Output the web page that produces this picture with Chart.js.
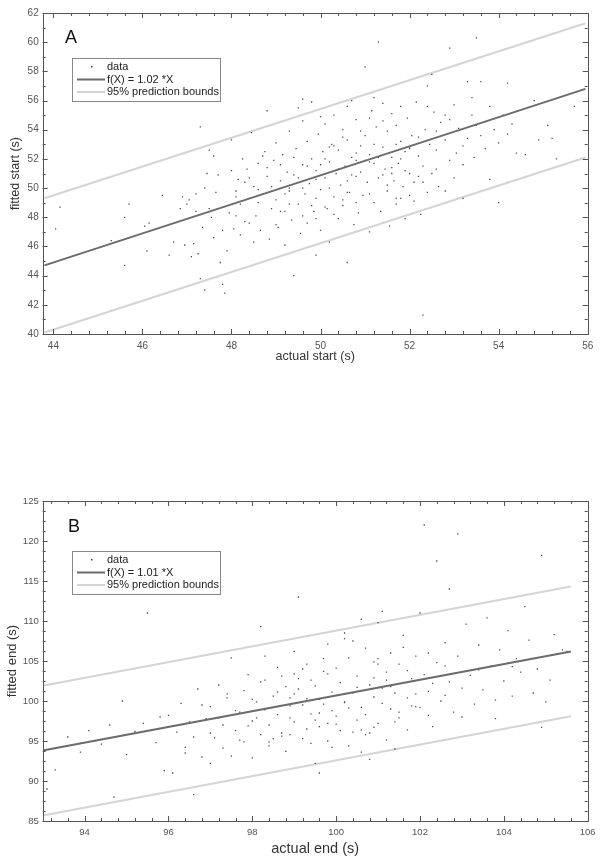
<!DOCTYPE html>
<html><head><meta charset="utf-8">
<script src="https://cdn.jsdelivr.net/npm/chart.js@4/dist/chart.umd.min.js"></script>
<style>
body{margin:0;background:#fff;width:604px;height:862px;overflow:hidden;position:relative}
.w{position:absolute;left:0;width:604px}
</style></head><body>
<div class="w" style="top:0;height:372px"><canvas id="ca" width="604" height="372"></canvas></div>
<div class="w" style="top:480px;height:382px"><canvas id="cb" width="604" height="382"></canvas></div>
<script>
// ---------- Panel A data ----------
const startActual = [44.05,44.15,45.3,45.6,45.6,45.7,46.05,46.1,46.15,46.45,46.6,46.7,46.85,46.9,46.95,47.0,47.05,47.1,47.15,47.2,47.25,47.3,47.3,47.35,47.4,47.4,47.45,47.5,47.55,47.6,47.6,47.65,47.7,47.75,47.8,47.85,47.9,47.95,48.0,48.0,48.05,48.1,48.15,48.2,48.2,48.25,48.3,48.35,48.4,48.45,48.5,48.5,48.55,48.6,48.65,48.7,48.75,48.8,48.8,48.85,48.9,48.95,49.0,49.0,49.05,49.1,49.15,49.2,49.2,49.25,49.3,49.3,49.35,49.4,49.4,49.45,49.5,49.5,49.55,49.6,49.6,49.65,49.7,49.7,49.75,49.8,49.8,49.85,49.9,49.9,49.95,50.0,50.0,50.05,50.1,50.1,50.15,50.2,50.2,50.25,50.3,50.3,50.35,50.4,50.4,50.45,50.5,50.5,50.55,50.6,50.6,50.65,50.7,50.7,50.75,50.8,50.8,50.85,50.9,50.9,50.95,51.0,51.0,51.05,51.1,51.1,51.15,51.2,51.2,51.25,51.3,51.3,51.35,51.4,51.4,51.45,51.5,51.5,51.55,51.6,51.6,51.65,51.7,51.7,51.75,51.8,51.8,51.85,51.9,51.9,51.95,52.0,52.0,52.05,52.1,52.15,52.2,52.25,52.3,52.3,52.35,52.4,52.4,52.45,52.5,52.5,52.55,52.6,52.65,52.7,52.8,52.8,52.9,52.9,53.0,53.05,53.1,53.2,53.2,53.3,53.3,53.4,53.45,53.5,53.5,53.6,53.6,53.7,53.8,53.8,53.9,54.0,54.0,54.1,54.2,54.2,54.3,54.4,54.6,54.8,54.9,55.1,55.2,55.3,55.7,
48.3,48.6,48.9,49.1,49.3,49.5,49.7,49.9,50.0,50.2,50.4,50.6,50.8,51.0,51.2,51.4,51.6,51.8,52.0,52.2,50.1,50.3,50.5,50.7,49.6,49.4,49.8,50.9,51.1,51.3,51.5,51.7,51.9,49.2,48.8,48.4,48.1,50.0,50.6,51.2,49.9,50.3,50.8,51.8,52.2,52.6,53.0,53.4,52.4,52.8,
47.0,47.2,47.5,47.8,48.1,48.4,48.7,49.0,49.3,49.6,49.9,50.2,50.5,50.8,51.1,51.4,51.7,52.0,52.3,52.6,52.9,53.2,48.6,49.1,49.6,50.1,50.6,51.1,51.6,52.1];
const startFitted = [47.2,48.7,46.4,44.7,48.0,48.9,47.4,45.7,47.6,49.5,45.4,46.3,48.6,49.4,46.1,48.9,49.2,45.3,46.2,49.6,45.5,54.2,43.8,47.3,43.0,50.0,51.0,52.6,48.0,52.2,46.6,49.7,50.9,44.9,43.4,42.8,45.7,48.3,51.2,53.3,47.2,49.8,50.6,46.8,48.9,52.0,47.7,51.3,49.3,53.8,46.3,50.1,48.1,51.7,47.1,49.6,52.5,55.3,50.8,46.5,48.6,51.9,49.2,53.1,47.3,50.5,52.3,46.1,48.4,51.1,49.8,53.9,47.8,44.0,50.9,52.7,48.9,55.5,46.9,51.6,56.1,49.6,53.2,47.6,50.3,52.0,55.9,48.4,45.4,51.2,53.7,49.9,47.1,52.5,50.7,54.4,48.6,51.8,46.3,53.0,49.4,55.0,51.0,47.9,52.6,50.2,54.0,48.8,51.5,44.9,53.3,49.7,52.1,56.0,47.5,50.8,54.7,48.3,52.9,51.1,49.5,58.3,53.6,50.4,47.0,52.3,55.3,49.0,51.7,54.2,60.0,50.7,48.4,52.8,55.8,51.3,49.8,53.9,47.4,52.1,55.1,50.5,54.3,48.9,51.7,53.2,55.6,50.1,52.5,47.9,54.8,49.5,51.0,53.6,50.4,55.9,52.2,48.2,41.3,51.5,54.0,57.0,49.7,53.0,57.8,51.0,55.2,52.6,50.1,54.5,49.8,53.3,59.6,51.9,55.7,52.4,54.1,49.3,51.6,57.3,53.4,55.0,52.1,60.3,54.3,57.3,53.6,52.7,50.6,55.6,54.0,49.0,53.1,55.0,57.2,53.7,54.4,52.4,52.3,56.0,53.3,54.3,53.4,52.0,55.6,
50.4,49.0,50.1,51.6,48.9,50.7,51.5,49.3,51.6,50.0,51.3,50.5,52.4,51.9,53.0,50.9,51.4,52.0,52.8,53.5,52.0,52.9,49.2,50.9,50.0,52.1,48.8,53.9,49.6,52.1,50.2,53.0,51.2,49.6,51.4,50.7,48.1,54.9,55.6,56.2,47.9,48.2,49.0,49.3,50.8,53.9,50.7,56.2,55.6,55.0,
47.9,48.4,48.6,47.1,49.4,47.6,52.2,47.5,50.0,48.1,50.6,52.8,53.5,51.9,51.8,54.6,49.3,52.7,50.4,51.3,54.7,52.9,49.9,48.4,54.6,48.7,49.7,54.8,51.0,49.1];
const fitStartX   = [43.8, 55.95];
const fitStartY   = [44.7, 56.8];
const upperStartY = [49.3, 61.3];
const lowerStartY = [40.1, 52.1];
const startXTicks = [44,46,48,50,52,54,56];
const startYTicks = [40,42,44,46,48,50,52,54,56,58,60,62];

// ---------- Panel B data ----------
const endActual = [93.1,93.3,93.6,93.9,94.1,94.4,94.6,94.7,94.9,95.0,95.2,95.4,95.5,95.7,95.8,95.9,96.1,96.2,96.3,96.4,96.5,96.6,96.6,96.7,96.8,96.9,97.0,97.0,97.1,97.2,97.3,97.3,97.4,97.5,97.5,97.6,97.7,97.8,97.8,97.9,98.0,98.0,98.1,98.2,98.2,98.3,98.4,98.4,98.5,98.6,98.6,98.7,98.8,98.8,98.9,99.0,99.0,99.1,99.1,99.2,99.3,99.3,99.4,99.5,99.5,99.6,99.6,99.7,99.7,99.8,99.8,99.9,100.0,100.0,100.1,100.1,100.2,100.2,100.3,100.3,100.4,100.5,100.5,100.6,100.6,100.7,100.7,100.8,100.8,100.9,100.9,101.0,101.0,101.1,101.1,101.2,101.2,101.3,101.3,101.4,101.5,101.5,101.6,101.7,101.7,101.8,101.9,102.0,102.0,102.1,102.1,102.2,102.3,102.4,102.4,102.5,102.6,102.7,102.7,102.8,102.9,102.9,103.0,103.1,103.2,103.3,103.4,103.5,103.6,103.7,103.8,103.9,104.0,104.1,104.2,104.3,104.4,104.5,104.6,104.7,104.8,104.9,104.9,105.0,105.1,105.2,105.4,105.5,
98.0,98.3,98.6,98.9,99.2,99.4,99.6,99.9,100.1,100.3,100.5,100.7,100.9,101.1,101.3,101.5,101.7,101.9,99.0,99.3,99.8,100.4,100.9,98.5,98.1,97.6,97.2,97.0,96.8,99.7,100.4,101.0,101.6,99.2,98.7,98.3,102.3,102.6,102.2,101.4,100.6,99.9,99.4,98.9,
97.4,97.9,98.2,98.7,99.1,99.5,99.8,100.2,100.6,101.0,101.4,101.8,102.2,102.6,103.0,103.4,98.4,99.0,99.6,100.2,100.8,101.2,96.0,96.4,103.8,104.2,97.7,98.9,100.0,101.9];
const endFitted = [89.0,91.4,95.5,93.6,96.3,94.6,97.0,88.0,100.0,93.3,96.2,97.2,111.0,94.8,98.0,91.3,91.0,96.1,99.7,93.5,97.4,88.3,95.5,101.5,93.0,97.8,92.2,99.3,95.4,102.0,94.1,97.0,100.4,93.1,105.4,96.3,98.6,94.9,101.3,103.3,97.5,92.9,99.9,95.8,109.3,102.6,97.0,94.4,100.6,104.2,98.3,96.0,101.8,93.7,99.4,106.2,97.4,113.0,102.8,95.3,100.3,104.6,98.4,92.2,101.9,91.0,96.8,103.7,99.6,107.1,95.0,101.1,98.1,104.1,96.3,102.3,108.5,99.8,94.4,105.4,101.0,97.6,103.1,110.2,99.2,95.8,106.6,92.7,102.0,100.5,104.9,97.2,109.8,111.2,101.6,95.1,103.6,99.0,106.0,101.0,104.6,97.9,108.2,100.4,96.4,102.8,105.6,99.2,111.0,122.0,103.3,101.2,96.8,117.5,104.8,100.0,107.3,114.0,102.4,98.6,120.9,105.6,101.6,109.6,103.2,99.6,107.0,101.4,110.4,104.4,97.8,106.4,102.5,108.8,100.6,105.3,103.6,111.8,107.6,101.0,104.0,118.2,96.7,99.9,102.6,108.3,106.4,106.2,
100.2,98.9,101.1,97.9,99.5,102.6,100.2,98.8,100.8,99.1,101.7,98.3,102.9,99.7,101.8,98.6,103.8,100.9,100.9,96.5,97.2,96.1,96.7,95.3,97.9,98.8,97.9,96.0,99.5,105.3,107.5,105.3,106.7,104.0,103.1,105.6,102.2,104.4,98.2,94.0,93.6,94.2,94.7,95.8,
100.9,96.9,102.4,95.6,101.5,97.6,103.4,99.9,96.4,104.6,97.4,99.4,106.0,100.7,98.0,103.9,94.9,103.4,98.5,107.8,96.0,102.6,98.2,94.2,100.1,104.3,95.1,100.4,97.1,99.3];
const fitEndX   = [93.0, 105.6];
const fitEndY   = [93.8, 106.2];
const upperEndY = [101.9, 114.3];
const lowerEndY = [85.7, 98.1];
const endXTicks = [94,96,98,100,102,104,106];
const endYTicks = [85,90,95,100,105,110,115,120,125];

// ---------- drawing ----------
const FONT = "'Liberation Sans', Arial, sans-serif";
const AX = '#555';
function pts(xs, ys){ return xs.map((x,i)=>({x:x, y:ys[i]})); }

function makeChart(id, cfg){
  const decor = {
    id:'decor',
    afterDraw(chart){
      const c = chart.ctx, a = chart.chartArea;
      const xs = chart.scales.x, ys = chart.scales.y;
      c.save();
      c.strokeStyle = AX; c.lineWidth = 1;
      c.strokeRect(Math.round(a.left)+0.5, Math.round(a.top)+0.5, Math.round(a.right-a.left), Math.round(a.bottom-a.top));
      c.beginPath();
      const drawX = (v,len)=>{ const p=Math.round(xs.getPixelForValue(v))+0.5; if(p<a.left-0.5||p>a.right+1)return;
        c.moveTo(p,a.bottom); c.lineTo(p,a.bottom-len); c.moveTo(p,a.top); c.lineTo(p,a.top+len); };
      const drawY = (v,len)=>{ const p=Math.round(ys.getPixelForValue(v))+0.5; if(p<a.top-0.5||p>a.bottom+1)return;
        c.moveTo(a.left,p); c.lineTo(a.left+len,p); c.moveTo(a.right,p); c.lineTo(a.right-len,p); };
      for(let v=cfg.xTicks[0]-2; v<=cfg.xTicks[cfg.xTicks.length-1]+0.001; v+=cfg.xMinor){ drawX(+v.toFixed(3),3); }
      cfg.xTicks.forEach(v=>drawX(v,5));
      for(let v=cfg.yTicks[0]; v<=cfg.yTicks[cfg.yTicks.length-1]+0.001; v+=cfg.yMinor){ drawY(+v.toFixed(3),3); }
      cfg.yTicks.forEach(v=>drawY(v,5));
      c.stroke();
      c.fillStyle = '#111'; c.font = '18px '+FONT; c.textBaseline='alphabetic'; c.textAlign='left';
      c.fillText(cfg.letter, cfg.letterPos[0], cfg.letterPos[1]);
      const L = cfg.legend;
      c.fillStyle='#fff'; c.fillRect(L.x, L.y, L.w, L.h);
      c.strokeStyle='#888'; c.strokeRect(L.x+0.5, L.y+0.5, L.w, L.h);
      c.font = '11px '+FONT; c.textBaseline='middle';
      const rows=[L.y+9, L.y+21.5, L.y+34];
      c.fillStyle='#444'; c.fillRect(L.x+19, rows[0]-1, 1.5, 1.5);
      c.strokeStyle='#6b6b6b'; c.lineWidth=2; c.beginPath(); c.moveTo(L.x+5,rows[1]); c.lineTo(L.x+33,rows[1]); c.stroke();
      c.strokeStyle='#d4d4d4'; c.beginPath(); c.moveTo(L.x+5,rows[2]); c.lineTo(L.x+33,rows[2]); c.stroke();
      c.fillStyle='#222';
      c.fillText('data', L.x+35, rows[0]);
      c.fillText(cfg.fitLabel, L.x+35, rows[1]);
      c.fillText('95% prediction bounds', L.x+35, rows[2]);
      c.fillStyle='#333'; c.textAlign='center'; c.textBaseline='middle';
      c.font = cfg.xTitleSize+'px '+FONT;
      c.fillText(cfg.xTitle, (a.left+a.right)/2, cfg.xTitleY);
      c.save(); c.translate(cfg.yTitleX, (a.top+a.bottom)/2); c.rotate(-Math.PI/2);
      c.font = cfg.yTitleSize+'px '+FONT; c.fillText(cfg.yTitle, 0, 0); c.restore();
      c.restore();
    }
  };
  const tickFont = {family: FONT, size: cfg.tickSize};
  return new Chart(document.getElementById(id), {
    type:'scatter',
    data:{datasets:[
      {type:'line', data:pts(cfg.fitX, cfg.upY), borderColor:'#d4d4d4', borderWidth:2, pointRadius:0, showLine:true, fill:false, order:3},
      {type:'line', data:pts(cfg.fitX, cfg.loY), borderColor:'#d4d4d4', borderWidth:2, pointRadius:0, showLine:true, fill:false, order:3},
      {type:'scatter', data:pts(cfg.xs, cfg.ys), backgroundColor:'#4a4a4a', borderWidth:0, pointStyle:'rect', pointRadius:0.9, order:2},
      {type:'line', data:pts(cfg.fitX, cfg.fitY), borderColor:'#6b6b6b', borderWidth:2, pointRadius:0, showLine:true, fill:false, order:1}
    ]},
    options:{
      responsive:false, animation:false, events:[],
      layout:{padding:{top:cfg.padTop, right:cfg.padRight, left:0, bottom:0}},
      plugins:{legend:{display:false}, tooltip:{enabled:false}},
      scales:{
        x:{type:'linear', min:cfg.xMin, max:cfg.xMax,
           grid:{display:false, drawTicks:false}, border:{display:false},
           ticks:{font:tickFont, color:AX, padding:cfg.xPad, maxRotation:0, autoSkip:false},
           afterBuildTicks:s=>{ s.ticks = cfg.xTicks.map(v=>({value:v})); },
           afterFit:s=>{ s.height = cfg.xH; }},
        y:{type:'linear', min:cfg.yMin, max:cfg.yMax,
           grid:{display:false, drawTicks:false}, border:{display:false},
           ticks:{font:tickFont, color:AX, padding:4, autoSkip:false},
           afterBuildTicks:s=>{ s.ticks = cfg.yTicks.map(v=>({value:v})); },
           afterFit:s=>{ s.width = 42.7; }}
      }
    },
    plugins:[decor]
  });
}

makeChart('ca', {
  xs:startActual, ys:startFitted, fitX:fitStartX, fitY:fitStartY, upY:upperStartY, loY:lowerStartY,
  xMin:43.76, xMax:56, yMin:40, yMax:62, xTicks:startXTicks, yTicks:startYTicks, xMinor:0.4, yMinor:1,
  padTop:13, padRight:16.3, xH:38, xPad:6, tickSize:10,
  letter:'A', letterPos:[65,43],
  legend:{x:72, y:58, w:148, h:43}, fitLabel:'f(X) = 1.02 *X',
  xTitle:'actual start (s)', xTitleY:357, xTitleSize:12.5, yTitle:'fitted start (s)', yTitleX:16, yTitleSize:12.5
});
makeChart('cb', {
  xs:endActual, ys:endFitted, fitX:fitEndX, fitY:fitEndY, upY:upperEndY, loY:lowerEndY,
  xMin:93, xMax:106, yMin:85, yMax:125, xTicks:endXTicks, yTicks:endYTicks, xMinor:0.4, yMinor:1.25,
  padTop:21, padRight:16.3, xH:41, xPad:6, tickSize:9.5,
  letter:'B', letterPos:[68,52],
  legend:{x:72, y:71, w:148, h:43}, fitLabel:'f(X) = 1.01 *X',
  xTitle:'actual end (s)', xTitleY:369, xTitleSize:14.5, yTitle:'fitted end (s)', yTitleX:12, yTitleSize:13
});
</script>
</body></html>
